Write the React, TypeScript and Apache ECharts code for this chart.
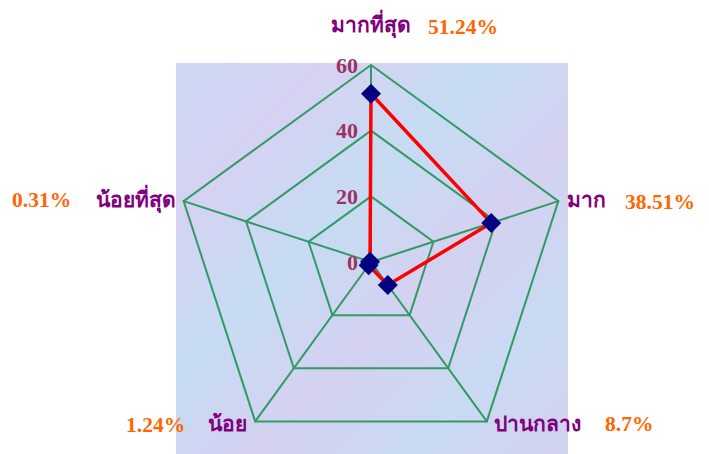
import React, { useEffect, useRef } from "react";
import * as echarts from "echarts";

const categories = ["มากที่สุด", "มาก", "ปานกลาง", "น้อย", "น้อยที่สุด"];
const values = [51.24, 38.51, 8.7, 1.24, 0.31];
const percentLabels = ["51.24%", "38.51%", "8.7%", "1.24%", "0.31%"];
const axisMax = 60;

const SERIF = "'Liberation Serif', 'Times New Roman', serif";
const NAME_COLOR = "#800080";
const PCT_COLOR = "#FF6600";

// label layout [name x, name y, name align, pct x, pct y, pct align]
const labelLayout: [number, number, string, number, number, string][] = [
  [371, 25, "center", 428, 27, "left"],
  [567, 200, "left", 625, 202, "left"],
  [494, 424, "left", 605, 424, "left"],
  [247, 424, "right", 126, 425, "left"],
  [176, 200, "right", 12, 200, "left"],
];

export default function App() {
  const ref = useRef<HTMLDivElement>(null);
  useEffect(() => {
    if (!ref.current) return;
    const chart = echarts.init(ref.current, undefined, { renderer: "svg" });
    const texts: any[] = [];
    categories.forEach((c, i) => {
      const l = labelLayout[i];
      texts.push({
        type: "text",
        z: 10,
        style: {
          x: l[0], y: l[1], text: c, align: l[2], verticalAlign: "middle",
          fill: NAME_COLOR, font: `bold 21px ${SERIF}`,
        },
      });
      texts.push({
        type: "text",
        z: 10,
        style: {
          x: l[3], y: l[4], text: percentLabels[i], align: l[5], verticalAlign: "middle",
          fill: PCT_COLOR, font: `bold 21.5px ${SERIF}`,
        },
      });
    });
    // ECharts radar runs counter-clockwise; the reference runs clockwise
    const order = [0, ...categories.map((_, i) => i).slice(1).reverse()];
    chart.setOption({
      animation: false,
      backgroundColor: "#ffffff",
      graphic: [
        {
          type: "rect",
          z: -10,
          shape: { x: 176, y: 63, width: 392, height: 391 },
          style: {
            fill: new echarts.graphic.LinearGradient(0, 0, 1, 1, [
              { offset: 0, color: "#cbd8f3" },
              { offset: 0.2, color: "#d5d2f2" },
              { offset: 0.4, color: "#c6dcf3" },
              { offset: 0.6, color: "#d4d1f1" },
              { offset: 0.8, color: "#c9daf2" },
              { offset: 1, color: "#d3d2f1" },
            ]),
          },
        },
        ...texts,
      ],
      radar: {
        center: [371, 262],
        radius: 197,
        startAngle: 90,
        splitNumber: 3,
        shape: "polygon",
        indicator: order.map((k, i) => ({
          name: categories[k],
          min: 0,
          max: axisMax,
          ...(i === 0
            ? {
                axisLabel: {
                  show: true,
                  color: "#993366",
                  fontFamily: SERIF,
                  fontWeight: "bold",
                  fontSize: 22,
                  margin: 13,
                },
              }
            : {}),
        })),
        axisName: { show: false },
        axisLine: { lineStyle: { color: "#339966", width: 2 } },
        splitLine: { lineStyle: { color: "#339966", width: 2 } },
        splitArea: { show: false },
        axisTick: { show: false },
        axisLabel: { show: false },
      },
      series: [
        {
          type: "radar",
          symbol: "diamond",
          symbolSize: 20,
          itemStyle: { color: "#000080" },
          lineStyle: { color: "#FF0000", width: 3.5 },
          data: [{ value: order.map((k) => values[k]) }],
        },
      ],
    });
    return () => chart.dispose();
  }, []);
  return (
    <div
      ref={ref}
      style={{ position: "absolute", left: 0, top: 0, width: 709, height: 454 }}
    />
  );
}
